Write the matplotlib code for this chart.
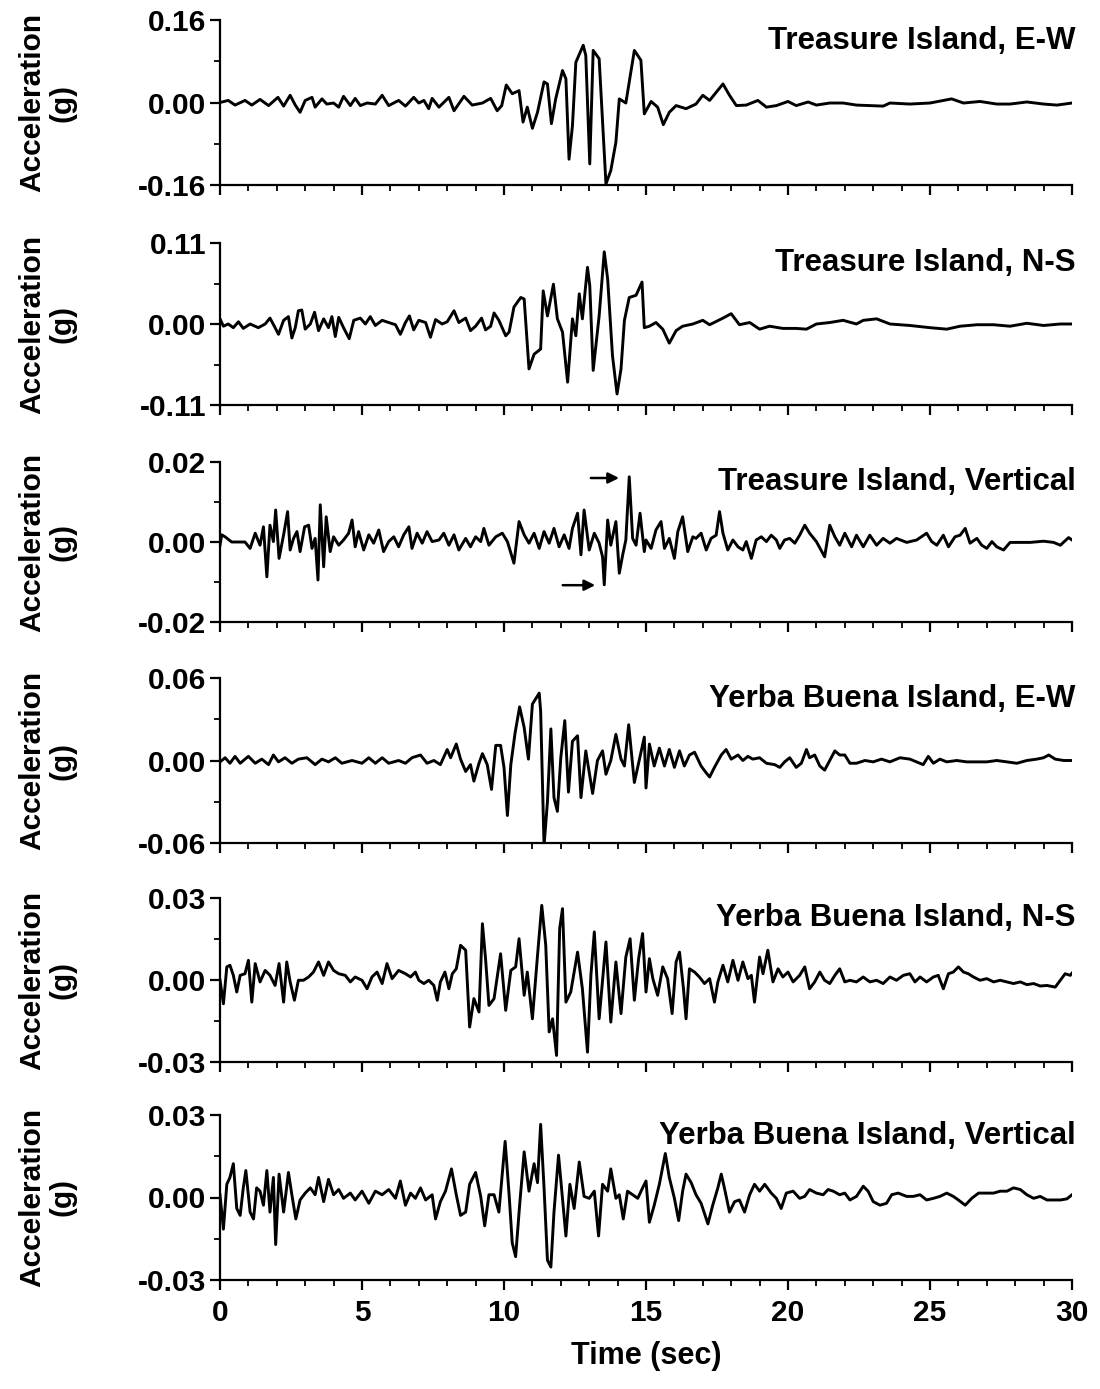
import matplotlib
matplotlib.use("Agg")
import matplotlib.pyplot as plt
from matplotlib.ticker import MultipleLocator, FormatStrFormatter

plt.rcParams['font.family'] = ['Liberation Sans', 'DejaVu Sans']
plt.rcParams['font.weight'] = 'bold'
plt.rcParams['axes.unicode_minus'] = False

# ---------------- data (time in s, acceleration in g) ----------------
ti_ew_t = [0.00,0.29,0.53,0.88,1.12,1.41,1.71,2.04,2.24,2.47,2.65,2.82,3.00,3.24,3.35,3.59,3.76,4.00,4.18,4.35,
           4.59,4.76,4.94,5.18,5.47,5.71,5.94,6.29,6.53,6.82,7.00,7.18,7.35,7.47,7.71,8.06,8.24,8.59,8.88,9.24,
           9.53,9.76,9.92,10.08,10.29,10.53,10.67,10.82,11.00,11.18,11.41,11.53,11.67,11.82,12.06,12.18,12.29,
           12.41,12.53,12.79,12.88,13.02,13.14,13.35,13.59,13.76,13.94,14.06,14.29,14.59,14.82,14.94,
           15.18,15.41,15.61,15.82,16.06,16.41,16.76,17.00,17.24,17.71,17.94,18.18,18.53,18.94,19.24,19.59,
           20.00,20.29,20.71,21.00,21.47,21.94,22.41,23.35,23.59,24.29,25.00,25.76,26.18,26.76,27.35,27.82,
           28.41,29.00,29.47,30.00]
ti_ew_a = [0.000,0.004,-0.005,0.004,-0.005,0.006,-0.006,0.010,-0.007,0.014,-0.005,-0.019,0.004,0.010,-0.009,0.007,
           -0.003,-0.001,-0.009,0.012,-0.006,0.008,-0.006,-0.001,-0.003,0.014,-0.006,0.004,-0.007,0.010,-0.001,0.004,
           -0.012,0.008,-0.009,0.010,-0.016,0.012,-0.005,-0.001,0.008,-0.016,-0.006,0.034,0.017,0.023,-0.038,-0.009,
           -0.050,-0.019,0.040,0.036,-0.041,0.007,0.062,0.046,-0.110,-0.045,0.078,0.111,0.091,-0.119,0.101,0.085,
           -0.158,-0.132,-0.077,0.007,-0.001,0.101,0.082,-0.022,
           0.002,-0.009,-0.043,-0.019,-0.006,-0.012,-0.003,0.014,0.004,0.036,0.014,-0.006,-0.005,0.004,-0.009,-0.006,
           0.002,-0.006,0.001,-0.005,-0.001,-0.001,-0.005,-0.007,-0.001,-0.003,-0.001,0.007,-0.001,0.002,-0.003,-0.003,
           0.001,-0.003,-0.005,-0.001]

ti_ns_t = [0.00,0.12,0.29,0.47,0.65,0.82,1.06,1.35,1.59,1.76,1.94,2.06,2.24,2.41,2.53,2.65,2.76,2.88,3.00,3.18,
           3.33,3.47,3.65,3.82,3.94,4.06,4.18,4.35,4.55,4.71,4.94,5.12,5.29,5.47,5.71,5.94,6.18,6.35,6.53,6.67,
           6.82,7.00,7.24,7.41,7.59,7.82,8.00,8.24,8.41,8.65,8.82,9.00,9.21,9.35,9.53,9.65,9.82,10.06,10.18,10.35,
           10.59,10.71,10.88,11.06,11.29,11.38,11.53,11.74,11.88,12.06,12.24,12.41,12.53,12.65,12.76,12.94,13.02,
           13.14,13.35,13.53,13.65,13.82,13.98,14.12,14.24,14.41,14.65,14.86,14.94,
           15.12,15.35,15.59,15.82,16.06,16.29,16.65,17.00,17.24,17.71,18.00,18.29,18.65,19.00,19.35,19.82,20.29,
           20.65,21.00,21.47,21.94,22.41,22.65,23.12,23.59,24.29,25.00,25.59,26.06,26.65,27.24,27.82,28.41,29.00,
           29.59,30.00]
ti_ns_a = [0.007,-0.003,0.000,-0.005,0.003,-0.006,0.000,-0.005,0.000,0.008,-0.005,-0.014,0.005,0.010,-0.019,-0.005,
           0.018,0.019,-0.007,0.000,0.016,-0.009,0.007,-0.005,0.010,-0.017,0.009,-0.005,-0.020,0.005,0.008,0.000,
           0.010,-0.002,0.005,0.002,-0.001,-0.014,0.002,0.011,-0.008,0.005,0.002,-0.018,0.006,0.000,0.003,0.018,
           0.002,0.008,-0.009,-0.003,0.008,-0.008,-0.003,0.015,0.005,-0.016,-0.011,0.023,0.036,0.034,-0.061,-0.041,
           -0.034,0.045,0.011,0.054,0.007,-0.011,-0.079,0.007,-0.016,0.041,0.007,0.077,0.052,-0.063,0.011,0.098,
           0.061,-0.043,-0.095,-0.061,0.005,0.036,0.039,0.057,-0.005,
           -0.003,0.002,-0.007,-0.026,-0.009,-0.003,0.000,0.005,-0.001,0.008,0.014,-0.001,0.002,-0.007,-0.003,-0.006,
           -0.006,-0.007,0.000,0.002,0.005,0.000,0.005,0.007,0.000,-0.002,-0.005,-0.007,-0.003,-0.001,-0.001,-0.003,
           0.001,-0.002,0.000,0.000]

ti_v_t = [0.00,0.06,0.18,0.41,0.65,0.88,1.06,1.24,1.41,1.53,1.65,1.76,1.88,1.96,2.08,2.24,2.38,2.47,2.59,2.71,
          2.82,2.98,3.12,3.24,3.35,3.45,3.53,3.65,3.74,3.88,4.00,4.18,4.35,4.53,4.65,4.76,4.88,5.06,5.24,5.41,
          5.59,5.76,5.94,6.12,6.29,6.47,6.65,6.76,6.94,7.12,7.29,7.47,7.71,7.88,8.06,8.24,8.41,8.65,8.82,9.00,
          9.18,9.29,9.47,9.71,9.94,10.12,10.35,10.53,10.71,10.88,11.06,11.24,11.41,11.59,11.76,11.94,12.12,12.29,
          12.41,12.59,12.71,12.82,13.00,13.18,13.35,13.47,13.53,13.65,13.76,13.94,14.06,14.18,14.29,14.41,14.53,
          14.65,14.79,14.94,
          15.00,15.18,15.35,15.53,15.65,15.82,16.00,16.12,16.29,16.47,16.65,16.76,16.94,17.12,17.29,17.47,17.59,
          17.71,17.88,18.06,18.24,18.41,18.53,18.71,18.88,19.06,19.24,19.41,19.59,19.71,19.88,20.06,20.24,20.41,
          20.59,20.76,21.00,21.29,21.47,21.65,21.82,22.00,22.24,22.41,22.65,22.88,23.12,23.35,23.59,23.82,24.18,
          24.53,24.88,25.06,25.24,25.47,25.65,25.88,26.06,26.24,26.41,26.65,26.82,27.00,27.18,27.35,27.59,27.82,
          28.18,28.53,29.00,29.35,29.59,29.88,30.00]
ti_v_a = [-0.0008,0.0018,0.0013,0.0000,0.0000,0.0000,-0.0016,0.0022,-0.0008,0.0038,-0.0087,0.0042,0.0001,0.0080,
          -0.0041,0.0018,0.0076,-0.0020,0.0009,0.0026,-0.0024,0.0038,0.0042,-0.0016,0.0009,-0.0095,0.0093,-0.0062,
          0.0063,-0.0024,0.0013,-0.0008,0.0005,0.0022,0.0055,-0.0012,0.0026,-0.0020,0.0018,-0.0003,0.0030,-0.0024,
          0.0001,0.0013,-0.0012,0.0018,0.0038,-0.0016,0.0022,-0.0003,0.0026,0.0001,0.0005,0.0022,-0.0008,0.0018,
          -0.0020,0.0009,-0.0012,0.0013,0.0001,0.0034,-0.0008,0.0013,0.0022,0.0001,-0.0053,0.0051,0.0018,-0.0003,
          0.0022,-0.0016,0.0026,-0.0003,0.0034,-0.0012,0.0018,-0.0016,0.0034,0.0072,-0.0032,0.0080,-0.0020,0.0022,
          -0.0003,-0.0037,-0.0107,0.0055,-0.0008,0.0051,-0.0078,-0.0032,0.0005,0.0163,0.0009,-0.0008,0.0072,-0.0024,
          0.0005,-0.0016,0.0030,0.0051,-0.0016,0.0009,-0.0041,0.0026,0.0063,-0.0024,0.0013,0.0009,0.0022,-0.0020,
          0.0009,0.0017,0.0076,0.0022,-0.0020,0.0005,-0.0012,-0.0020,0.0001,-0.0041,0.0005,0.0013,0.0001,0.0017,
          0.0005,-0.0016,0.0005,0.0009,-0.0003,0.0017,0.0042,0.0022,0.0001,-0.0037,0.0042,0.0013,-0.0008,0.0022,
          -0.0012,0.0017,-0.0012,0.0017,-0.0008,0.0009,-0.0003,0.0009,-0.0001,0.0005,0.0022,0.0001,-0.0008,0.0017,
          -0.0012,0.0013,0.0017,0.0034,-0.0003,0.0009,-0.0008,-0.0016,0.0001,-0.0012,-0.0020,-0.0001,-0.0001,-0.0001,
          0.0002,-0.0001,-0.0008,0.0011,0.0005]

ybi_ew_t = [0.00,0.18,0.35,0.53,0.71,1.00,1.24,1.47,1.71,1.88,2.06,2.29,2.53,2.76,3.06,3.35,3.59,3.82,4.06,4.29,
            4.65,5.00,5.24,5.47,5.71,5.94,6.29,6.53,6.76,7.06,7.29,7.53,7.76,8.00,8.12,8.32,8.47,8.65,8.82,8.94,
            9.12,9.24,9.41,9.56,9.71,9.88,10.00,10.12,10.24,10.39,10.55,10.71,10.86,11.00,11.24,11.29,11.41,11.53,
            11.65,11.76,11.88,12.00,12.14,12.27,12.41,12.59,12.71,12.88,13.12,13.29,13.47,13.59,13.76,13.94,14.12,
            14.24,14.39,14.59,14.76,14.94,
            15.00,15.12,15.29,15.47,15.65,15.82,16.00,16.18,16.35,16.53,16.71,16.94,17.12,17.24,17.41,17.65,17.82,
            18.00,18.24,18.41,18.59,18.76,19.00,19.24,19.53,19.71,19.88,20.06,20.29,20.47,20.65,20.76,20.94,21.12,
            21.29,21.47,21.65,21.82,22.00,22.18,22.41,22.71,23.00,23.29,23.59,23.94,24.29,24.53,24.76,24.94,25.12,
            25.35,25.59,25.94,26.29,26.65,27.00,27.35,27.71,28.06,28.41,28.76,29.00,29.18,29.41,29.71,30.00]
ybi_ew_a = [-0.001,0.002,-0.002,0.003,-0.002,0.003,-0.002,0.001,-0.003,0.004,-0.001,0.002,-0.002,0.001,0.002,-0.003,
            0.001,-0.001,0.002,-0.002,0.000,-0.002,0.002,-0.002,0.002,-0.002,0.000,-0.002,0.002,0.004,-0.002,0.000,
            -0.003,0.008,0.002,0.012,0.001,-0.008,-0.003,-0.015,-0.002,0.005,-0.003,-0.021,0.011,0.011,-0.005,-0.040,
            -0.003,0.020,0.039,0.024,0.001,0.041,0.049,0.036,-0.062,-0.030,0.023,-0.027,-0.037,0.002,0.029,-0.023,
            0.014,0.018,-0.027,0.007,-0.024,0.000,0.007,-0.010,0.000,0.019,0.001,-0.004,0.026,-0.016,0.000,0.017,
            -0.020,0.012,-0.004,0.009,-0.004,0.008,-0.005,0.007,-0.004,0.004,0.006,-0.004,-0.009,-0.012,-0.005,0.004,
            0.008,0.001,0.004,0.000,0.003,0.001,0.002,-0.002,-0.003,-0.005,-0.001,0.002,-0.005,-0.002,0.008,0.002,
            0.004,-0.004,-0.007,0.000,0.007,0.004,0.004,-0.002,-0.002,0.000,-0.001,0.001,-0.001,0.002,0.001,-0.001,
            -0.003,0.003,-0.002,0.001,-0.001,0.000,-0.001,-0.001,-0.001,0.000,-0.001,-0.002,0.000,0.001,0.002,0.004,
            0.001,0.000,0.000]

ybi_ns_t = [0.00,0.12,0.24,0.35,0.47,0.59,0.71,0.88,1.00,1.12,1.24,1.41,1.59,1.76,1.94,2.08,2.24,2.35,2.47,2.62,
            2.76,2.94,3.12,3.29,3.47,3.65,3.82,4.00,4.18,4.41,4.59,4.76,5.00,5.18,5.35,5.53,5.71,5.88,6.06,6.29,
            6.53,6.71,6.88,7.00,7.18,7.35,7.53,7.65,7.76,7.92,8.06,8.18,8.32,8.47,8.65,8.79,8.94,9.12,9.24,9.35,
            9.47,9.65,9.88,10.06,10.24,10.41,10.53,10.71,10.82,11.00,11.18,11.33,11.47,11.59,11.71,11.85,11.96,
            12.06,12.18,12.35,12.59,12.76,12.94,13.06,13.18,13.35,13.59,13.76,13.94,14.12,14.29,14.44,14.59,14.74,
            14.88,
            15.00,15.12,15.24,15.41,15.59,15.76,15.92,16.06,16.18,16.32,16.41,16.53,16.71,16.88,17.06,17.24,17.41,
            17.53,17.71,17.88,18.06,18.24,18.41,18.59,18.71,18.82,19.00,19.12,19.29,19.47,19.65,19.82,20.00,20.18,
            20.41,20.59,20.76,20.94,21.12,21.29,21.47,21.65,21.82,22.00,22.18,22.41,22.65,22.88,23.12,23.35,23.59,
            23.82,24.06,24.29,24.47,24.65,24.88,25.12,25.29,25.47,25.65,25.82,26.00,26.18,26.35,26.53,26.76,27.00,
            27.24,27.47,27.71,27.94,28.18,28.41,28.65,28.88,29.12,29.41,29.59,29.76,29.94,30.00]
ybi_ns_a = [0.0000,-0.0087,0.0048,0.0054,0.0017,-0.0044,0.0017,0.0023,0.0072,-0.0081,0.0060,-0.0007,0.0035,0.0017,
            -0.0020,0.0060,-0.0081,0.0066,-0.0007,-0.0074,-0.0001,-0.0001,0.0011,0.0029,0.0066,0.0017,0.0066,0.0035,
            0.0023,0.0017,-0.0007,0.0011,-0.0001,-0.0032,0.0011,0.0029,-0.0013,0.0060,0.0005,0.0035,0.0023,0.0011,
            0.0029,-0.0001,-0.0013,-0.0001,-0.0020,-0.0074,-0.0007,0.0029,-0.0032,0.0023,0.0041,0.0127,0.0109,-0.0172,
            -0.0068,-0.0117,0.0206,0.0078,-0.0093,-0.0068,0.0096,-0.0111,0.0035,0.0048,0.0151,-0.0056,0.0029,-0.0142,
            0.0090,0.0273,0.0127,-0.0190,-0.0142,-0.0276,0.0188,0.0261,-0.0081,-0.0044,0.0102,-0.0032,-0.0264,0.0017,
            0.0176,-0.0142,0.0139,-0.0154,0.0066,-0.0123,0.0084,0.0151,-0.0074,0.0078,0.0170,
            -0.0044,0.0078,0.0005,-0.0056,0.0048,0.0005,-0.0123,0.0066,0.0102,-0.0032,-0.0142,0.0041,0.0029,0.0011,
            -0.0013,0.0005,-0.0081,-0.0007,0.0054,-0.0007,0.0072,-0.0001,0.0066,0.0005,0.0017,-0.0081,0.0084,0.0023,
            0.0109,-0.0007,0.0041,0.0011,0.0029,-0.0007,0.0017,0.0048,-0.0032,-0.0007,0.0029,-0.0001,-0.0013,0.0017,
            0.0041,-0.0007,-0.0001,-0.0007,0.0011,-0.0007,-0.0001,-0.0013,0.0011,-0.0001,0.0017,0.0023,-0.0007,0.0011,
            -0.0007,0.0011,0.0017,-0.0032,0.0023,0.0029,0.0048,0.0029,0.0023,0.0011,-0.0001,0.0005,-0.0007,-0.0001,
            -0.0007,-0.0013,-0.0007,-0.0017,-0.0013,-0.0022,-0.0020,-0.0026,-0.0001,0.0023,0.0017,0.0025]

ybi_v_t = [0.00,0.12,0.24,0.35,0.47,0.59,0.71,0.82,0.91,1.06,1.18,1.29,1.41,1.53,1.65,1.76,1.88,1.96,2.08,2.24,
           2.41,2.53,2.67,2.82,3.00,3.18,3.35,3.47,3.65,3.82,4.00,4.18,4.35,4.59,4.76,5.00,5.24,5.47,5.71,5.94,
           6.18,6.35,6.53,6.71,6.88,7.06,7.24,7.47,7.59,7.76,7.94,8.15,8.32,8.47,8.65,8.79,9.00,9.18,9.32,9.47,
           9.65,9.82,10.04,10.18,10.29,10.41,10.55,10.71,10.88,11.06,11.18,11.29,11.41,11.53,11.65,11.76,11.92,
           12.06,12.18,12.32,12.47,12.65,12.82,13.00,13.18,13.33,13.47,13.65,13.76,13.94,14.06,14.20,14.35,14.53,
           14.71,14.88,
           15.00,15.12,15.29,15.47,15.68,15.82,16.00,16.15,16.29,16.41,16.59,16.76,16.94,17.18,17.35,17.53,17.65,
           17.76,17.94,18.12,18.29,18.47,18.65,18.82,19.00,19.18,19.41,19.59,19.76,19.94,20.18,20.41,20.59,20.76,
           21.00,21.24,21.41,21.59,21.82,22.00,22.18,22.41,22.65,22.82,23.00,23.24,23.47,23.65,23.88,24.18,24.41,
           24.65,24.88,25.12,25.35,25.59,25.82,26.00,26.24,26.47,26.71,27.00,27.24,27.47,27.71,27.94,28.18,28.41,
           28.65,28.88,29.12,29.35,29.59,29.82,30.00]
ybi_v_a = [0.0010,-0.0115,0.0048,0.0073,0.0123,-0.0040,-0.0065,0.0035,0.0098,-0.0053,-0.0078,0.0035,0.0023,-0.0028,
           0.0098,-0.0053,0.0073,-0.0171,0.0085,-0.0053,0.0091,0.0010,-0.0078,-0.0009,0.0016,0.0035,0.0010,0.0073,
           -0.0015,0.0066,0.0010,0.0029,-0.0003,0.0016,-0.0009,0.0023,-0.0021,0.0023,0.0010,0.0029,-0.0003,0.0060,
           -0.0028,0.0016,-0.0003,0.0035,-0.0009,0.0010,-0.0078,-0.0015,0.0023,0.0104,0.0010,-0.0065,-0.0053,0.0048,
           0.0091,0.0004,-0.0103,0.0010,0.0010,-0.0053,0.0204,0.0010,-0.0165,-0.0215,-0.0028,0.0166,0.0023,0.0123,
           0.0054,0.0266,0.0035,-0.0228,-0.0253,-0.0053,0.0154,-0.0003,-0.0140,0.0048,-0.0040,0.0129,0.0004,-0.0003,
           0.0023,-0.0140,0.0048,0.0023,0.0104,-0.0003,0.0010,-0.0078,0.0023,0.0010,-0.0003,0.0035,
           0.0060,-0.0090,-0.0028,0.0048,0.0160,0.0073,-0.0003,-0.0084,0.0023,0.0085,0.0054,0.0010,-0.0021,-0.0096,
           -0.0028,0.0035,0.0085,0.0035,-0.0053,-0.0015,-0.0009,-0.0053,0.0010,0.0048,0.0023,0.0048,0.0016,-0.0003,
           -0.0040,0.0016,0.0023,-0.0003,0.0004,0.0029,0.0016,0.0010,0.0029,0.0023,0.0010,0.0016,-0.0009,0.0004,
           0.0041,0.0023,-0.0015,-0.0028,-0.0021,0.0010,0.0016,0.0004,0.0004,0.0010,-0.0009,-0.0003,0.0004,0.0016,
           0.0004,-0.0009,-0.0028,-0.0003,0.0016,0.0016,0.0016,0.0023,0.0023,0.0035,0.0029,0.0010,-0.0003,0.0004,
           -0.0009,-0.0009,-0.0009,-0.0005,0.0010]

titles = ["Treasure Island, E-W", "Treasure Island, N-S", "Treasure Island, Vertical",
          "Yerba Buena Island, E-W", "Yerba Buena Island, N-S", "Yerba Buena Island, Vertical"]
y_limits = [0.16, 0.11, 0.02, 0.06, 0.03, 0.03]
series_t = [ti_ew_t, ti_ns_t, ti_v_t, ybi_ew_t, ybi_ns_t, ybi_v_t]
series_a = [ti_ew_a, ti_ns_a, ti_v_a, ybi_ew_a, ybi_ns_a, ybi_v_a]
x_ticks = [0, 5, 10, 15, 20, 25, 30]

# arrows marking peaks in Treasure Island vertical record (t_start, t_end, level)
arrow_upper = (12.96, 14.15, 0.0160)
arrow_lower = (11.97, 13.31, -0.0108)

# ---------------- layout ----------------
W, H = 1100, 1389
fig = plt.figure(figsize=(W / 100, H / 100), dpi=100)
panel_px = [(20, 185), (243, 405), (462, 622), (678, 843), (898, 1062), (1115, 1280)]
left_px, right_px = 220, 1072

fs_tick = 21.5
fs_label = 21.5
fs_title = 22.5
fs_xlabel = 22
for i, (top, bot) in enumerate(panel_px):
    ax = fig.add_axes([left_px / W, 1 - bot / H, (right_px - left_px) / W, (bot - top) / H])
    ax.plot(series_t[i], series_a[i], color='black', lw=2.1, solid_joinstyle='round')
    ym = y_limits[i]
    ax.set_xlim(0, 30)
    ax.set_ylim(-ym, ym)
    ax.spines['top'].set_visible(False)
    ax.spines['right'].set_visible(False)
    for s in ('left', 'bottom'):
        ax.spines[s].set_linewidth(1.6)
    ax.xaxis.set_major_locator(MultipleLocator(5))
    ax.xaxis.set_minor_locator(MultipleLocator(1))
    ax.yaxis.set_major_locator(MultipleLocator(ym))
    ax.yaxis.set_minor_locator(MultipleLocator(ym / 2))
    ax.yaxis.set_major_formatter(FormatStrFormatter('%.2f'))
    ax.tick_params(which='major', direction='out', length=7, width=1.6, labelsize=fs_tick, pad=3)
    ax.tick_params(which='minor', direction='out', length=4, width=1.3)
    for lab in ax.get_yticklabels():
        lab.set_fontweight('bold')
    if i < 5:
        ax.tick_params(axis='x', labelbottom=False)
    else:
        ax.set_xticks(x_ticks)
        ax.set_xticklabels([str(v) for v in x_ticks], fontweight='bold')
        ax.tick_params(axis='x', pad=7)
        ax.set_xlabel("Time (sec)", fontsize=fs_xlabel, fontweight='bold', labelpad=10)
    ax.set_ylabel("Acceleration\n(g)", fontsize=fs_label, fontweight='bold', linespacing=1.1)
    ax.yaxis.set_label_coords(-0.168, 0.5)
    ax.text(1.004, 0.875, titles[i], transform=ax.transAxes, ha='right', va='center',
            fontsize=fs_title, fontweight='bold')
    if i == 2:
        for (t0, t1, lvl) in (arrow_upper, arrow_lower):
            ax.annotate("", xy=(t1, lvl), xytext=(t0, lvl),
                        arrowprops=dict(arrowstyle='-|>', color='black', lw=1.8,
                                        mutation_scale=16))

fig.savefig("out.png", dpi=100)
